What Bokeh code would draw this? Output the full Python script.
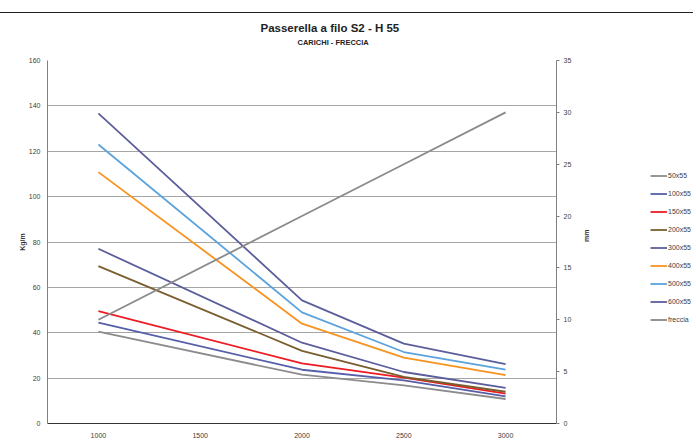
import math
from bokeh.plotting import figure
from bokeh.layouts import row
from bokeh.models import (Range1d, LinearAxis, Legend, LegendItem, Title,
                          FixedTicker)
from bokeh.embed import file_html
from bokeh.resources import INLINE

# ---- data ----
x_vals = [1000, 2000, 2500, 3000]
x_ticks = [1000, 1500, 2000, 2500, 3000]
series_names = ["50x55", "100x55", "150x55", "200x55", "300x55", "400x55", "500x55", "600x55"]
s50 = [40.5, 21.5, 16.8, 10.8]
s100 = [44.5, 23.7, 19.0, 12.0]
s150 = [49.5, 26.5, 20.2, 13.2]
s200 = [69.4, 32.0, 20.5, 14.0]
s300 = [77.0, 35.6, 22.7, 15.7]
s400 = [110.8, 44.0, 29.0, 21.3]
s500 = [123.0, 49.0, 31.5, 23.7]
s600 = [136.7, 54.3, 35.2, 26.2]
freccia = [10, 20, 25, 30]
left_ticks = [0, 20, 40, 60, 80, 100, 120, 140, 160]
right_ticks = [0, 5, 10, 15, 20, 25, 30, 35]

colors = ["#8c8c8c", "#5560a8", "#ed1c24", "#7b5e2f", "#5c5e9c", "#f7931e", "#5ba3dc", "#5c5e9c"]
freccia_color = "#8a8a8a"

FONT = "Liberation Sans"
TXT = "#404040"

p = figure(frame_width=508, frame_height=362, output_backend="svg", toolbar_location=None,
           x_range=Range1d(750, 3250), y_range=Range1d(0, 160),
           min_border_left=49, min_border_right=40, min_border_top=47, min_border_bottom=20)
p.styles = {"border-left": "1.5px solid #222222", "border-top": "1.5px solid #222222"}
p.extra_y_ranges = {"mm": Range1d(0, 35)}
p.outline_line_color = None
p.background_fill_color = "white"
p.border_fill_color = "white"

# grid
p.xgrid.grid_line_color = None
p.ygrid.grid_line_color = "#a6a6a6"
p.ygrid.grid_line_width = 1
p.ygrid.ticker = FixedTicker(ticks=left_ticks)

# left axis
la = p.yaxis[0]
la.ticker = FixedTicker(ticks=left_ticks)
la.axis_label = "Kg/m"
la.axis_label_text_font = FONT
la.axis_label_text_font_size = "7px"
la.axis_label_text_font_style = "bold"
la.axis_label_text_color = "#333333"
la.axis_label_standoff = 0
la.major_label_text_font = FONT
la.major_label_text_font_size = "7px"
la.major_label_text_color = TXT
la.major_tick_line_color = None
la.major_tick_out = 0
la.major_tick_in = 0
la.minor_tick_line_color = None
la.minor_tick_out = 0
la.axis_line_color = "#808080"
la.major_label_standoff = 7

# bottom axis
ba = p.xaxis[0]
ba.ticker = FixedTicker(ticks=x_ticks)
ba.major_label_text_font = FONT
ba.major_label_text_font_size = "7px"
ba.major_label_text_color = TXT
ba.major_tick_line_color = None
ba.major_tick_out = 0
ba.major_tick_in = 0
ba.minor_tick_line_color = None
ba.minor_tick_out = 0
ba.axis_line_color = "#333333"
ba.major_label_standoff = 9

# right axis
ra = LinearAxis(y_range_name="mm", ticker=FixedTicker(ticks=right_ticks), axis_label="mm")
ra.axis_label_text_font = FONT
ra.axis_label_text_font_size = "7px"
ra.axis_label_text_font_style = "bold"
ra.axis_label_text_color = "#333333"
ra.axis_label_standoff = 12
ra.axis_label_orientation = math.pi / 2
ra.major_label_text_font = FONT
ra.major_label_text_font_size = "7px"
ra.major_label_text_color = TXT
ra.major_tick_line_color = "#808080"
ra.major_tick_out = 3
ra.major_tick_in = 0
ra.minor_tick_line_color = None
ra.axis_line_color = "#808080"
ra.major_label_standoff = 4
p.add_layout(ra, "right")

# lines
data = [s50, s100, s150, s200, s300, s400, s500, s600]
for ys, c in zip(data, colors):
    p.line(x_vals, ys, line_color=c, line_width=1.8)
p.line(x_vals, freccia, line_color=freccia_color, line_width=1.8, y_range_name="mm")

# titles (subtitle first = closest to the plot)
p.add_layout(Title(text="CARICHI - FRECCIA", text_font=FONT, text_font_size="7.5px",
                   text_font_style="bold", text_color="#222222",
                   align="left", offset=250, standoff=28), "above")
p.add_layout(Title(text="Passerella a filo S2 - H 55", text_font=FONT, text_font_size="11.5px",
                   text_font_style="bold", text_color="#222222",
                   align="left", offset=213, standoff=-24), "above")

# legend panel (separate figure to the right)
p2 = figure(width=98, height=429, output_backend="svg", toolbar_location=None,
            x_range=Range1d(0, 1), y_range=Range1d(0, 1),
            min_border_left=0, min_border_right=0, min_border_top=0, min_border_bottom=0)
p2.styles = {"border-top": "1.5px solid #222222"}
p2.axis.visible = False
p2.grid.visible = False
p2.outline_line_color = None
p2.background_fill_color = "white"
p2.border_fill_color = "white"

nan = float("nan")
items = []
for name, c in zip(series_names + ["freccia"], colors + [freccia_color]):
    r = p2.line([nan], [nan], line_color=c, line_width=1.8)
    items.append(LegendItem(label=name, renderers=[r]))

legend = Legend(items=items, location=(55, 96), orientation="vertical",
                glyph_width=17, glyph_height=13, label_height=13, spacing=5,
                label_standoff=1, padding=0, margin=0,
                border_line_color=None, background_fill_alpha=0,
                label_text_font=FONT, label_text_font_size="7px",
                label_text_color=TXT)
p2.add_layout(legend, "center")

layout = row(p, p2, spacing=0)
layout.styles = {"margin-left": "-3px", "position": "relative", "top": "12px"}

open("out.html", "w").write(file_html(layout, INLINE))
